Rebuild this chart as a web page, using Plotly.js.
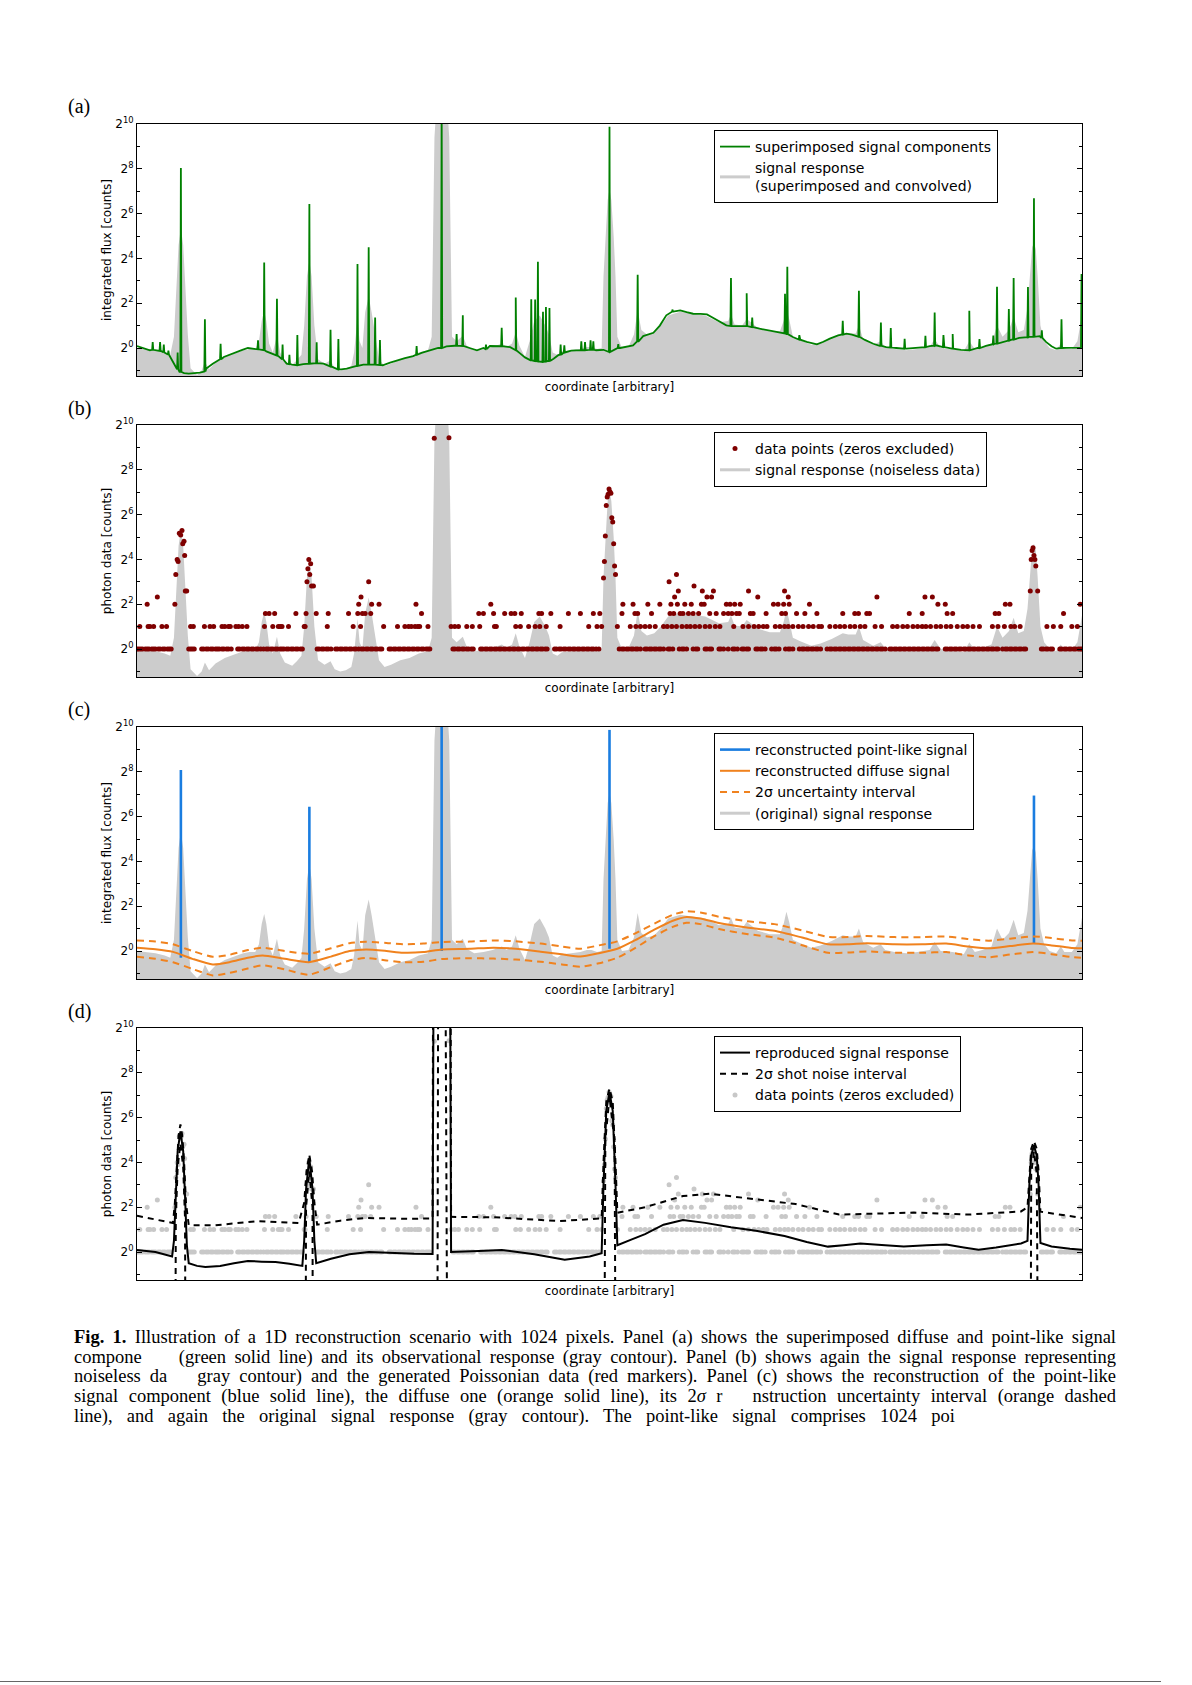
<!DOCTYPE html>
<html>
<head>
<meta charset="utf-8">
<script src="https://cdn.plot.ly/plotly-3.0.1.min.js"></script>
<style>
html,body{margin:0;padding:0;background:#fff;width:1192px;height:1685px;overflow:hidden;}
#chart{position:absolute;left:0;top:0;width:1192px;height:1685px;}
#caption{position:absolute;left:74px;top:1328px;width:1042px;font-family:"Liberation Serif",serif;font-size:18.5px;line-height:19.7px;color:#000;}
#caption .j{text-align:justify;text-align-last:justify;}
#caption .last{width:881px;text-align:justify;text-align-last:justify;}
#caption .gap{display:inline-block;}
#pageline{position:absolute;left:0;top:1681px;width:1161px;height:1px;background:#666;}
</style>
</head>
<body>
<div id="chart"></div>
<div id="caption">
<div class="j"><b>Fig. 1.</b> Illustration of a 1D reconstruction scenario with 1024 pixels. Panel (a) shows the superimposed diffuse and point-like signal</div>
<div class="j">compone<span class="gap" style="width:37px"></span>(green solid line) and its observational response (gray contour). Panel (b) shows again the signal response representing</div>
<div class="j">noiseless da<span class="gap" style="width:30px"></span>gray contour) and the generated Poissonian data (red markers). Panel (c) shows the reconstruction of the point-like</div>
<div class="j">signal component (blue solid line), the diffuse one (orange solid line), its 2<i>σ</i> r<span class="gap" style="width:30px"></span>nstruction uncertainty interval (orange dashed</div>
<div class="last">line), and again the original signal response (gray contour). The point-like signal comprises 1024 poi</div>
</div>
<div id="pageline"></div>
<script>
// ---------------- DATA (pixel index 0..1023) ----------------
// Panel (a): diffuse signal component, log2 of integrated flux
const diffuseX = [0,6,14,22,28,33,36,41,46,51,56,62,68,75,82,88,94,101,108,114,120,129,140,151,157,162,168,173,180,187,195,202,209,216,221,227,236,245,255,266,274,281,290,299,308,317,326,335,344,353,360,368,375,382,393,404,410,415,420,426,433,440,445,451,456,462,470,480,490,497,505,512,518,523,530,537,543,548,553,559,566,573,580,588,595,602,610,617,622,628,634,638,648,660,667,674,685,696,703,710,718,725,731,736,743,750,759,768,774,779,788,797,804,811,822,833,842,851,858,865,874,883,892,901,910,919,928,937,946,955,966,977,984,990,995,1000,1006,1015,1023];
const diffuseLog2 = [0.09,0.0,-0.1,-0.12,-0.18,-0.28,-0.4,-0.77,-1.07,-1.12,-1.14,-1.12,-1.1,-0.92,-0.7,-0.55,-0.4,-0.28,-0.18,-0.08,0.0,-0.06,-0.15,-0.33,-0.5,-0.7,-0.74,-0.77,-0.72,-0.7,-0.68,-0.7,-0.82,-0.95,-0.95,-0.92,-0.82,-0.74,-0.74,-0.77,-0.65,-0.55,-0.45,-0.36,-0.22,-0.1,0.0,0.07,0.1,0.09,0.0,-0.1,0.0,0.09,0.08,0.04,-0.1,-0.25,-0.42,-0.55,-0.6,-0.62,-0.58,-0.48,-0.32,-0.2,-0.12,-0.1,-0.08,-0.1,-0.08,-0.18,-0.05,0.0,0.06,0.12,0.3,0.53,0.6,0.68,1.0,1.46,1.62,1.68,1.6,1.53,1.52,1.5,1.38,1.23,1.08,1.01,0.98,0.98,0.93,0.86,0.78,0.71,0.62,0.49,0.37,0.27,0.2,0.16,0.28,0.42,0.56,0.64,0.6,0.53,0.36,0.19,0.1,0.04,0.0,-0.03,0.0,0.03,0.08,0.12,0.04,-0.03,-0.08,-0.1,0.0,0.09,0.18,0.27,0.36,0.45,0.5,0.53,0.27,0.08,-0.03,0.0,0.01,0.02,0.02];
// Panel (a): point-like components: position, level next to the spike, spike top (log2)
const spikeX = [17,25,29,34,44,47.5,73.5,90.5,131,137.7,151.5,157.6,165,173.6,186.6,194.5,209.5,218,238.7,250.8,257.8,263,302.7,329.8,346,352.7,377.8,394.8,410,426.8,431,434,439.5,442.7,446.5,458.6,462.6,481,485,491,494,511.5,521,542,579.8,643,660,666,701.5,704,717,764,781.5,805.3,816,831,853.5,863.5,873,883,901,912,927,931,943.8,949,964.5,971,979.5,1000.8,1022.5];
const spikeBaseLog2 = [-0.08,-0.13,-0.2,-0.3,-0.95,-1.07,-1.05,-0.5,-0.06,-0.1,-0.33,-0.5,-0.72,-0.77,-0.7,-0.68,-0.82,-0.95,-0.8,-0.74,-0.74,-0.76,-0.3,0.0,0.1,0.09,-0.05,0.08,-0.1,-0.55,-0.58,-0.6,-0.62,-0.6,-0.58,-0.3,-0.2,-0.1,-0.1,-0.08,-0.08,-0.18,0.0,0.3,1.62,0.98,0.98,0.93,0.65,0.62,0.38,0.6,0.5,0.1,0.02,-0.03,0.04,0.1,0.04,-0.03,-0.1,0.0,0.17,0.2,0.33,0.38,0.48,0.5,0.45,0.0,0.02];
const spikePeakLog2 = [0.27,0.27,0.15,-0.12,-0.2,8.04,1.28,0.19,0.34,3.82,2.2,0.16,-0.3,0.58,6.43,0.26,0.81,0.4,3.75,4.5,1.36,0.36,0.09,11,0.62,1.46,0.15,0.9,2.25,2.18,2.17,3.85,1.62,1.83,1.78,0.15,0.12,0.3,0.27,0.34,0.3,9.88,0.17,3.27,1.72,3.12,2.44,1.36,2.42,3.63,0.57,1.22,2.56,1.14,0.89,0.41,0.55,1.58,0.58,0.62,1.66,0.4,0.55,2.73,1.74,3.12,2.72,6.68,0.79,1.28,3.3];
// Signal response (superimposed and convolved), log2 — gray contour in (a), (b), (c)
const responseX = [0,10,20,30,36,40,43,45,47.5,50,52,55,58,62,65,70,73.5,78,85,95,105,115,122,128,132,135,137.7,140,143,147,151.5,155,160,168,173,178,181,184,186.6,189,192,196,203,209.5,214,220,226,232,235,238.7,241,244,247,250.8,254,257.8,262,268,275,285,295,305,315,319,322,326,334,338,341,346,352.7,357,365,375,385,395,400,406,410,414,420,425,430,436,442,446,450,455,460,470,480,487,492,498,503,505,507,509.5,511.5,513.5,516,518,520,525,532,538,542,546,552,560,567,575,588,600,615,630,640,643,647,655,660,666,672,685,696,700,703,706,710,718,730,740,752,764,770,778,781.5,786,797,805,810,820,833,845,858,863.5,870,883,895,901,907,915,925,931,937,944,949,954,960,964,967,969,971,973,975,978,982,988,995,1000,1004,1012,1018,1023];
const responseLog2 = [0.0,-0.05,-0.1,-0.2,-0.3,0.5,3.0,4.6,5.35,4.6,3.0,0.6,-0.9,-1.1,-1.2,-1.0,-0.6,-0.95,-0.65,-0.4,-0.25,-0.1,-0.05,-0.05,0.3,1.2,1.65,1.2,0.2,-0.2,0.55,-0.2,-0.6,-0.75,-0.55,-0.3,1.0,3.2,3.9,3.2,1.0,-0.5,-0.7,-0.55,-0.9,-1.0,-0.95,-0.8,-0.2,1.35,0.3,0.0,1.6,2.3,1.6,0.5,-0.5,-0.8,-0.7,-0.5,-0.4,-0.2,-0.1,0.5,9.4,12,12,9.4,0.5,0.3,0.55,0.1,-0.1,-0.05,0.05,0.2,0.05,0.2,0.7,0.1,-0.4,0.3,1.2,1.45,1.0,0.6,-0.2,-0.3,-0.15,-0.1,-0.05,0.05,0.05,-0.05,0.0,3.2,5.0,6.6,7.1,6.6,5.0,3.2,0.5,0.0,0.05,0.6,1.7,0.8,0.6,0.7,1.0,1.45,1.62,1.55,1.45,1.15,1.2,1.5,1.05,1.0,1.3,1.1,0.9,0.75,0.75,1.2,1.75,1.3,0.5,0.35,0.15,0.25,0.45,0.7,0.65,0.65,1.0,0.4,0.15,0.3,0.05,-0.05,-0.1,-0.05,0.05,0.4,0.0,-0.05,-0.15,0.3,-0.05,0.05,0.2,1.0,0.5,0.8,1.4,0.7,0.8,1.8,3.6,4.5,4.7,4.4,3.2,1.0,0.3,0.0,-0.1,0.2,-0.05,-0.05,0.3,1.5];

// Panel (b)/(d): Poissonian photon counts (zeros excluded), positions per count level
const count1X = [0,2,4,6,9,11,13,16,18,20,23,25,28,30,33,35,37,56,58,60,62,70,72,75,77,80,82,85,87,89,92,94,97,99,102,109,111,114,116,119,121,124,126,129,131,134,137,140,142,145,147,150,152,155,157,159,162,164,167,169,172,174,177,179,195,197,200,202,205,207,210,215,217,220,222,225,227,230,232,235,237,240,243,245,248,250,253,255,258,260,263,265,273,275,278,280,283,285,288,290,293,295,298,300,303,305,308,310,313,315,317,342,344,347,349,352,354,357,359,362,364,372,374,377,379,382,384,387,389,392,394,397,399,402,404,407,409,412,414,417,419,422,424,427,429,432,434,437,439,442,444,452,454,457,459,462,464,467,469,472,474,477,479,482,484,487,489,492,494,497,500,522,525,527,530,532,535,537,540,542,545,550,552,555,557,560,562,565,567,570,575,577,580,587,590,592,595,602,605,607,615,617,620,622,630,632,635,640,645,647,650,655,657,660,662,670,672,675,677,680,687,690,692,695,702,705,707,710,717,720,722,725,727,730,732,735,737,740,747,750,752,755,757,760,762,765,767,770,772,775,777,780,782,785,787,790,792,795,797,800,802,805,807,810,815,817,820,822,825,827,830,832,835,837,840,842,845,847,850,852,855,857,860,862,865,867,875,877,880,882,885,887,890,892,895,897,900,902,905,907,910,912,915,917,920,922,925,927,930,932,937,940,942,945,947,950,952,955,957,960,962,979,981,984,986,989,991,999,1001,1004,1006,1009,1011,1014,1016,1019,1021,1023];
const count2X = [3,12,14,18,27,32,58,61,73,79,83,92,95,99,101,107,110,114,119,138,147,153,155,157,164,181,182,206,234,242,267,282,290,294,297,301,304,306,315,340,344,348,357,363,371,387,389,410,415,424,431,436,443,458,489,498,503,520,534,540,545,550,555,561,570,574,579,584,590,595,599,604,609,615,620,626,631,646,656,662,668,673,678,682,691,696,701,705,710,716,721,727,732,738,741,750,756,761,766,772,777,783,788,799,806,818,823,829,834,840,845,850,854,859,865,870,876,881,888,894,899,905,912,926,932,939,946,950,956,985,992,1000,1012,1018];
const count3X = [139,143,149,172,183,194,207,229,239,244,247,253,308,370,375,386,398,405,409,416,435,438,448,467,480,494,501,525,539,542,557,577,581,588,591,597,602,608,620,627,635,640,644,649,652,664,667,681,698,702,714,723,736,764,777,781,790,793,836,850,877,883,929,933,1003];
const count4X = [11,41,240,254,262,302,383,526,537,553,566,578,585,593,600,611,614,638,642,647,653,689,694,700,706,728,867,875,940,945,1021];
const highX = [22,42,43.5,44.5,45.8,47.3,48.7,49.5,50.9,51.6,52.3,53.8,184,185,186,187,188,189,191,242.5,250.8,321.8,337.7,505,506,507,508,509,510,511,512,513,514,515,516,517,518,576,584,586,582,603,612,624,617,622,662,672,701,705,801,853,861,967,968,969,970,971,972,973,975];
const highCounts = [5,10,16,15,36,34,39,26,28,18,6,6,8,12,16,10,14,7,7,5,8,680,690,9,15,33,85,110,120,141,130,124,58,51,26,13,10,8,10,6,5,7,6,6,5,5,6,5,6,5,5,5,5,6,16,21,23,18,16,13,6];

// Panel (c): reconstructed point-like signal (log2): position, top, foot
const pointX = [47.5,186.6,329.8,511.5,971];
const pointPeakLog2 = [8.08,6.44,12,9.87,6.94];
const pointBaseLog2 = [-0.3,-0.5,0.0,0.1,0.35];
// Panel (c): reconstructed diffuse signal with 2-sigma interval (log2)
const diffRecX = [0,20,39,60,82,100,120,136,160,186,210,230,248,270,288,310,330,360,386,410,437,460,480,500,520,540,560,580,595,610,630,660,690,720,748,770,790,820,850,876,900,922,945,970,990,1010,1023];
const diffRecLog2 = [0.15,0.08,-0.04,-0.35,-0.6,-0.5,-0.3,-0.2,-0.35,-0.5,-0.25,0.0,0.07,0.0,-0.08,-0.05,0.07,0.1,0.15,0.1,-0.03,-0.15,-0.25,-0.1,0.1,0.5,0.95,1.35,1.52,1.45,1.25,1.05,0.9,0.6,0.3,0.3,0.35,0.3,0.3,0.33,0.2,0.12,0.22,0.33,0.25,0.15,0.12];
const diffUpLog2 = [0.47,0.42,0.3,0.0,-0.26,-0.17,0.04,0.15,0.0,-0.12,0.12,0.35,0.41,0.36,0.3,0.33,0.4,0.42,0.47,0.43,0.33,0.2,0.1,0.25,0.43,0.8,1.22,1.62,1.77,1.72,1.53,1.33,1.2,0.92,0.63,0.62,0.67,0.62,0.62,0.65,0.53,0.46,0.55,0.65,0.58,0.48,0.46];
const diffLoLog2 = [-0.26,-0.35,-0.5,-0.8,-1.09,-0.98,-0.78,-0.64,-0.82,-1.06,-0.72,-0.42,-0.31,-0.42,-0.5,-0.48,-0.36,-0.32,-0.34,-0.38,-0.48,-0.6,-0.7,-0.55,-0.3,0.15,0.66,1.08,1.26,1.2,0.98,0.76,0.6,0.26,-0.08,-0.07,-0.02,-0.08,-0.08,-0.05,-0.2,-0.28,-0.16,-0.05,-0.14,-0.26,-0.3];
// Panel (d): reproduced signal response (log2)
const reproX = [0,20,38,40,42,44,47,50,52,54,56,65,74,90,105,120,135,150,165,179,181,183,186.5,190,192,194,210,230,251,275,300,320,321,339,340,370,395,430,463,490,503,505,508,511.5,515,518,520,535,550,570,591,615,643,670,701,725,748,765,783,810,830,855,876,895,911,930,957,964,966,968,971,974,976,978,990,1010,1023];
const reproLog2 = [0.09,0.0,-0.2,0.5,2.5,4.5,5.38,4.5,2.5,0.3,-0.5,-0.62,-0.67,-0.62,-0.5,-0.4,-0.43,-0.45,-0.52,-0.62,0.5,2.8,4.2,2.8,0.5,-0.5,-0.3,-0.1,0.0,-0.05,-0.08,-0.09,12,12,0.0,0.05,0.09,-0.1,-0.35,-0.2,-0.06,3,6.3,7.14,6.3,3,0.3,0.55,0.8,1.22,1.43,1.3,1.1,0.95,0.71,0.45,0.24,0.3,0.38,0.3,0.24,0.3,0.33,0.2,0.1,0.2,0.38,0.5,3.0,4.3,4.76,4.3,3.0,0.4,0.25,0.15,0.1];
// Panel (d): upper edge of the 2-sigma shot noise interval (log2)
const noiseUpX = [0,20,39,41,43,45,47,49,51,53,56,84,131,175,181,183.5,186.5,189.5,192,195,220,247,294,320,320.5,339.5,340,387,457,503,505,508,511.5,515,518,520,550,591,620,666,713,760,783,841,900,957,964,966,968,971,974,976,978,1023];
const noiseUpLog2 = [1.62,1.45,1.29,2.2,4.0,5.2,5.7,5.2,4.0,2.2,1.2,1.19,1.38,1.29,2.2,3.6,4.35,3.6,2.2,1.22,1.4,1.52,1.48,1.5,12,12,1.57,1.55,1.38,1.5,4,6.7,7.3,6.7,4,1.75,2.0,2.5,2.6,2.38,2.14,1.67,1.7,1.76,1.67,1.81,2.0,3.6,4.6,4.95,4.6,3.6,1.8,1.52];
// Panel (d): lower edge of the interval in counts (0 = interval reaches zero counts)
const noiseLoX = [0,40.5,42,44,47,50,52,53.5,181.5,183,186.5,190,191,324.5,326,334,337.5,504.5,507,509,511.5,514,517,519.5,966.5,968,971,974,977.5,1023];
const noiseLoCounts = [0,0,2.8,13.9,28.8,13.9,2.8,0,0,4,12.1,4,0,0,4000,4000,0,0,32,64,123.7,64,32,0,0,11.3,22.6,11.3,0,0];

// ---------------- helpers ----------------
const W = 1192, H = 1685;
const plotLeft = 137, plotRight = 1082;
const panelTops = [124, 425, 727, 1028], panelHeight = 252;
const LOG2 = Math.log10(2);
const toCounts = a => a.map(v => Math.pow(2, v));
const CLIP = 1e-6; // log-axis clipping of non-positive values

// green line: diffuse samples merged with the spikes
const gPts = diffuseX.map((x, k) => [x, diffuseLog2[k]]);
spikeX.forEach((x, k) => {
  gPts.push([x - 0.6, spikeBaseLog2[k]], [x, spikePeakLog2[k]], [x + 0.6, spikeBaseLog2[k]]);
});
gPts.sort((a, b) => a[0] - b[0]);
const greenX = gPts.map(p => p[0]);
const greenY = gPts.map(p => Math.pow(2, p[1]));

// data points
const dataX = [].concat(count1X, count2X, count3X, count4X, highX);
const dataY = [].concat(count1X.map(() => 1), count2X.map(() => 2), count3X.map(() => 3), count4X.map(() => 4), highCounts);

// point-like spikes as vertical segments
const blueX = [], blueY = [];
pointX.forEach((x, k) => { blueX.push(x, x, null); blueY.push(Math.pow(2, pointBaseLog2[k]), Math.pow(2, pointPeakLog2[k]), null); });

const respY = toCounts(responseLog2);
const font = {family: 'DejaVu Sans', color: '#000'};

const traces = [];
function ax(k) { return {xaxis: 'x' + (k ? k + 1 : ''), yaxis: 'y' + (k ? k + 1 : '')}; }
function grayFill(k) {
  return Object.assign({x: responseX, y: respY, type: 'scatter', mode: 'lines', fill: 'tozeroy',
    fillcolor: '#cccccc', line: {width: 0, color: '#cccccc'}, showlegend: false, hoverinfo: 'skip'}, ax(k));
}
function grayLegend(k, name, rank) {
  return Object.assign({x: [null], y: [null], type: 'scatter', mode: 'lines', name: name,
    line: {color: '#cccccc', width: 3}, legend: 'legend' + (k ? k + 1 : ''), legendrank: rank}, ax(k));
}
// (a)
traces.push(grayFill(0));
traces.push(Object.assign({x: greenX, y: greenY, type: 'scatter', mode: 'lines', name: 'superimposed signal components',
  line: {color: '#008000', width: 1.8}, legend: 'legend', legendrank: 1}, ax(0)));
traces.push(grayLegend(0, 'signal response<br>(superimposed and convolved)', 2));
// (b)
traces.push(grayFill(1));
traces.push(Object.assign({x: dataX, y: dataY, type: 'scatter', mode: 'markers', name: 'data points (zeros excluded)',
  marker: {color: '#7f0000', size: 5}, legend: 'legend2', legendrank: 1}, ax(1)));
traces.push(grayLegend(1, 'signal response (noiseless data)', 2));
// (c)
traces.push(grayFill(2));
traces.push(Object.assign({x: blueX, y: blueY, type: 'scatter', mode: 'lines', name: 'reconstructed point-like signal',
  line: {color: '#1a7de0', width: 2.6}, connectgaps: false, legend: 'legend3', legendrank: 1}, ax(2)));
traces.push(Object.assign({x: diffRecX, y: toCounts(diffRecLog2), type: 'scatter', mode: 'lines', name: 'reconstructed diffuse signal',
  line: {color: '#f0821e', width: 2, shape: 'spline', smoothing: 0.6}, legend: 'legend3', legendrank: 2}, ax(2)));
traces.push(Object.assign({x: diffRecX, y: toCounts(diffUpLog2), type: 'scatter', mode: 'lines', name: '2σ uncertainty interval',
  line: {color: '#f0821e', width: 2, dash: '7px,5px', shape: 'spline', smoothing: 0.6}, legend: 'legend3', legendrank: 3}, ax(2)));
traces.push(Object.assign({x: diffRecX, y: toCounts(diffLoLog2), type: 'scatter', mode: 'lines', showlegend: false,
  line: {color: '#f0821e', width: 2, dash: '7px,5px', shape: 'spline', smoothing: 0.6}}, ax(2)));
traces.push(grayLegend(2, '(original) signal response', 4));
// (d)
traces.push(Object.assign({x: dataX, y: dataY, type: 'scatter', mode: 'markers', name: 'data points (zeros excluded)',
  marker: {color: '#c8c8c8', size: 5}, legend: 'legend4', legendrank: 3}, ax(3)));
traces.push(Object.assign({x: reproX, y: toCounts(reproLog2), type: 'scatter', mode: 'lines', name: 'reproduced signal response',
  line: {color: '#000', width: 2}, legend: 'legend4', legendrank: 1}, ax(3)));
traces.push(Object.assign({x: noiseUpX, y: toCounts(noiseUpLog2), type: 'scatter', mode: 'lines', name: '2σ shot noise interval',
  line: {color: '#000', width: 2, dash: '6px,5px'}, legend: 'legend4', legendrank: 2}, ax(3)));
traces.push(Object.assign({x: noiseLoX, y: noiseLoCounts.map(v => v > 0 ? v : CLIP), type: 'scatter', mode: 'lines', showlegend: false,
  line: {color: '#000', width: 2, dash: '6px,5px'}}, ax(3)));

const tickVals = [1, 4, 16, 64, 256, 1024];
const tickText = ['2<sup>0</sup>', '2<sup>2</sup>', '2<sup>4</sup>', '2<sup>6</sup>', '2<sup>8</sup>', '2<sup>10</sup>'];
const minorVals = [0.5, 2, 8, 32, 128, 512];
const yTitles = ['integrated flux [counts]', 'photon data [counts]', 'integrated flux [counts]', 'photon data [counts]'];

const layout = {
  width: W, height: H, margin: {l: 0, r: 0, t: 0, b: 0},
  paper_bgcolor: '#fff', plot_bgcolor: '#fff', hovermode: false,
  font: Object.assign({size: 12}, font),
  annotations: []
};
const labels = ['(a)', '(b)', '(c)', '(d)'];
const labelY = [106.5, 408, 709, 1011];
const legendTops = [130, 432, 733, 1036];
for (let k = 0; k < 4; k++) {
  const top = panelTops[k], bot = top + panelHeight;
  const sx = k ? String(k + 1) : '';
  layout['xaxis' + sx] = {
    domain: [plotLeft / W, plotRight / W], anchor: 'y' + sx, range: [0, 1023],
    showticklabels: false, ticks: '', showline: true, linecolor: '#000', linewidth: 1, mirror: true,
    showgrid: false, zeroline: false,
    title: {text: 'coordinate [arbitrary]', font: Object.assign({size: 12}, font), standoff: 6}
  };
  layout['yaxis' + sx] = {
    domain: [1 - bot / H, 1 - top / H], anchor: 'x' + sx, type: 'log',
    range: [-1.25 * LOG2, 10 * LOG2],
    tickmode: 'array', tickvals: tickVals, ticktext: tickText,
    ticks: 'inside', ticklen: 5, tickwidth: 1, tickcolor: '#000',
    minor: {tickmode: 'array', tickvals: minorVals, ticks: 'inside', ticklen: 3, tickwidth: 1, tickcolor: '#000'},
    showline: true, linecolor: '#000', linewidth: 1, mirror: 'ticks',
    showgrid: false, zeroline: false,
    tickfont: Object.assign({size: 12}, font),
    title: {text: yTitles[k], font: Object.assign({size: 12}, font), standoff: 1}
  };
  layout['legend' + sx] = {
    x: 714 / W, y: 1 - legendTops[k] / H, xanchor: 'left', yanchor: 'top',
    bordercolor: '#000', borderwidth: 1, bgcolor: '#fff',
    font: Object.assign({size: 14}, font), tracegroupgap: 0, itemwidth: 30
  };
  layout.annotations.push({xref: 'paper', yref: 'paper', x: 66 / W, y: 1 - labelY[k] / H,
    xanchor: 'left', yanchor: 'middle', showarrow: false, text: labels[k],
    font: {family: 'Liberation Serif', size: 20, color: '#000'}});
}

Plotly.newPlot('chart', traces, layout, {staticPlot: true, displayModeBar: false});
</script>
</body>
</html>
